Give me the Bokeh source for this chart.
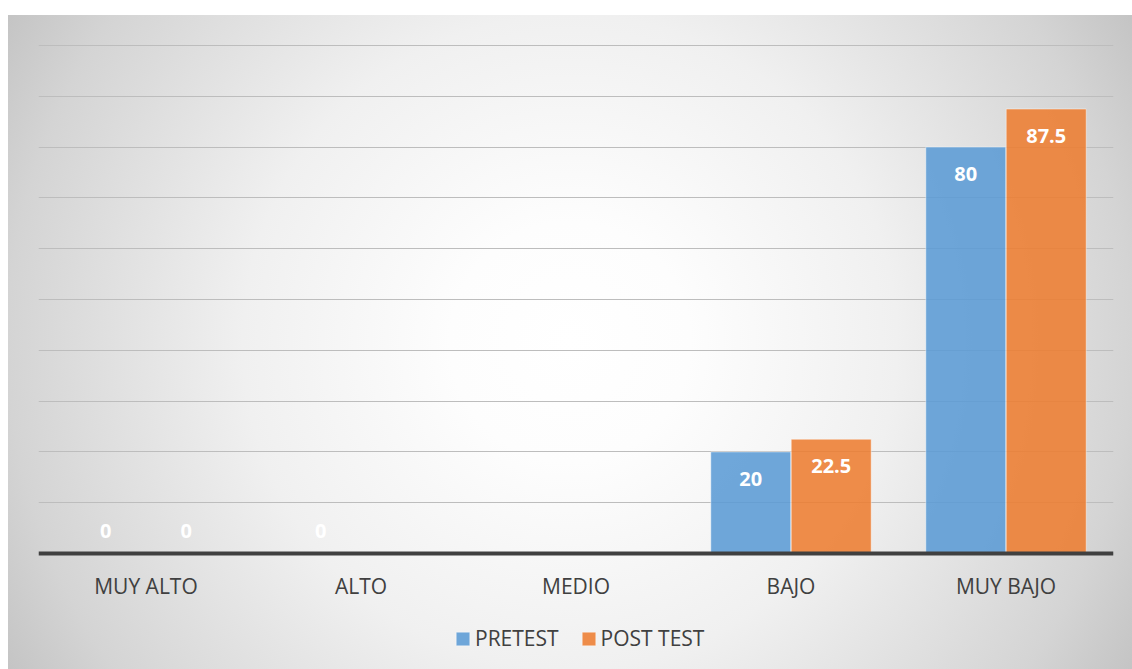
from bokeh.plotting import figure
from bokeh.models import (ColumnDataSource, FactorRange, Range1d, FixedTicker,
                          Legend, LegendItem)
from bokeh.transform import dodge
from bokeh.core.properties import value
from bokeh.embed import file_html
from bokeh.resources import INLINE

categories = ["MUY ALTO", "ALTO", "MEDIO", "BAJO", "MUY BAJO"]
pretest = [0, 0, None, 20, 80]
post_test = [0, None, None, 22.5, 87.5]
series_names = ["PRETEST", "POST TEST"]
y_ticks = [0, 10, 20, 30, 40, 50, 60, 70, 80, 90, 100]

FONT = "Open Sans"
BLUE = "#5B9BD5"
ORANGE = "#ED7D31"


def fmt(v):
    if v is None:
        return ""
    return ("%g" % v)


def build(vals):
    tops = [float("nan") if v is None else v for v in vals]
    labels = [fmt(v) for v in vals]
    offs = [(-23 if (v is not None and v == 0) else 27) for v in vals]
    return ColumnDataSource(dict(cat=categories, top=tops, label=labels, off=offs))


src_pre = build(pretest)
src_post = build(post_test)

# frame spans 44..669 px; 100 units ~ 508 px, the space under 0 holds axis labels and legend
p = figure(x_range=FactorRange(*categories, range_padding=0),
           y_range=Range1d(-22.83, 100.2),
           width=1132, height=669,
           output_backend="svg", toolbar_location=None,
           min_border_left=38, min_border_right=19,
           min_border_top=44, min_border_bottom=0)
p.styles = {"background":
            "linear-gradient(#ffffff, #ffffff) 0 0 / 100% 15px no-repeat, "
            "linear-gradient(#ffffff, #ffffff) 0 0 / 8px 100% no-repeat, "
            "radial-gradient(circle 652px at 50% 50%, #ffffff 0px, #fdfdfd 120px, #f0f0f0 327px, "
            "#d4d4d4 562px, #c4c4c4 652px) 8px 15px / calc(100% - 8px) calc(100% - 15px) no-repeat"}
p.border_fill_color = None
p.background_fill_color = None
p.outline_line_color = None

W = 0.372
r_pre = p.vbar(x=dodge("cat", -0.187, range=p.x_range), top="top", bottom=0, width=W,
               source=src_pre, fill_color=BLUE, fill_alpha=0.88,
               line_color="#ffffff", line_alpha=0.45, line_width=1)
r_post = p.vbar(x=dodge("cat", 0.187, range=p.x_range), top="top", bottom=0, width=W,
                source=src_post, fill_color=ORANGE, fill_alpha=0.88,
                line_color="#ffffff", line_alpha=0.45, line_width=1)

for src, off in ((src_pre, -0.187), (src_post, 0.187)):
    p.text(x=dodge("cat", off, range=p.x_range), y="top", text="label", source=src,
           y_offset="off", text_align="center", text_baseline="middle",
           text_color="white", text_font=value(FONT), text_font_style="bold",
           text_font_size="20px")

p.yaxis.visible = False
p.yaxis.ticker = FixedTicker(ticks=y_ticks)
p.ygrid.ticker = FixedTicker(ticks=y_ticks)
p.ygrid.grid_line_color = "#bdbdbd"
p.ygrid.grid_line_width = 1
p.xgrid.grid_line_color = None

ax = p.xaxis[0]
ax.fixed_location = 0
ax.axis_line_color = "#404040"
ax.axis_line_width = 4
ax.major_tick_line_color = None
ax.minor_tick_line_color = None
ax.major_label_text_font = FONT
ax.major_label_text_font_size = "21px"
ax.major_label_text_color = "#404040"
ax.major_label_standoff = 12

legend = Legend(items=[LegendItem(label=series_names[0], renderers=[r_pre]),
                       LegendItem(label=series_names[1], renderers=[r_post])],
                orientation="horizontal", location=(416, 17),
                glyph_width=17, glyph_height=17, label_standoff=4, spacing=21,
                label_text_font=FONT, label_text_font_size="21px",
                label_text_color="#404040",
                background_fill_alpha=0, border_line_alpha=0,
                padding=0, margin=0)
p.add_layout(legend, "center")

open("out.html", "w").write(file_html(p, INLINE))
